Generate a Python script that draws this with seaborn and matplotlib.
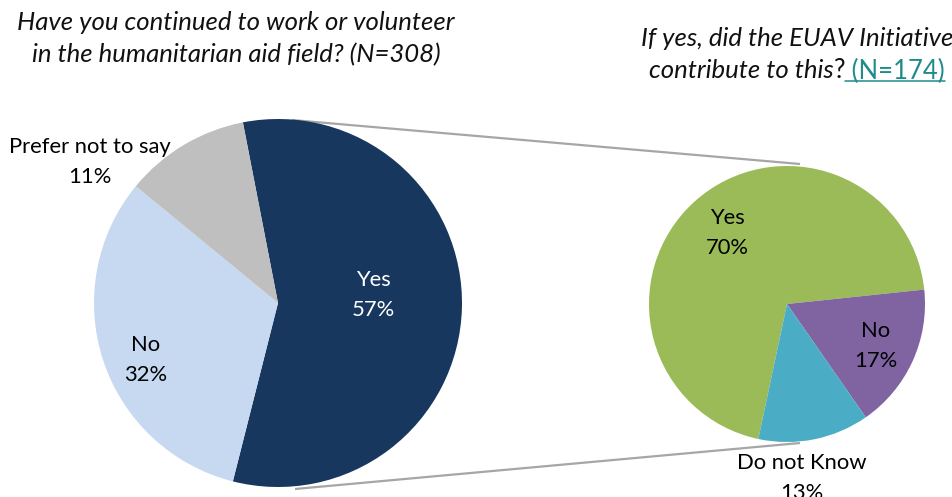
import matplotlib
matplotlib.use("Agg")
import matplotlib.pyplot as plt
import seaborn as sns

# Survey results
main_labels = ["Yes", "No", "Prefer not to say"]
main_values = [57, 32, 11]
main_colors = ["#17375E", "#C6D9F1", "#BFBFBF"]

sub_labels = ["Yes", "No", "Do not Know"]
sub_values = [70, 17, 13]
sub_colors = ["#9BBB59", "#8064A2", "#4BACC6"]

main_title = ["Have you continued to work or volunteer",
              "in the humanitarian aid field? (N=308)"]
sub_title_1 = "If yes, did the EUAV Initiative"
sub_title_2 = "contribute to this"
sub_n = " (N=174)"

sns.set_theme(style="white")
plt.rcParams["font.family"] = ["Lato", "DejaVu Sans"]

W, H = 952, 497
fig = plt.figure(figsize=(W / 100, H / 100), dpi=100)
ax = fig.add_axes([0, 0, 1, 1])

# Main pie (left) and breakdown pie (right), in pixel-like data units
main_center, main_r = (278, 194), 184
sub_center, sub_r = (787, 193), 138

ax.pie(main_values, colors=sns.color_palette(main_colors), startangle=101,
       counterclock=False, center=main_center, radius=main_r,
       wedgeprops=dict(linewidth=0))
ax.pie(sub_values, colors=sns.color_palette(sub_colors), startangle=258,
       counterclock=False, center=sub_center, radius=sub_r,
       wedgeprops=dict(linewidth=0))

ax.set_xlim(0, W)
ax.set_ylim(0, H)
ax.set_aspect("equal")
ax.axis("off")

# Connector lines between the two pies
line_kw = dict(color="#A6A6A6", linewidth=1.6, solid_capstyle="butt", zorder=0)
ax.plot([292, 800], [377, 333], **line_kw)
ax.plot([295, 800], [8, 54], **line_kw)

lab_kw = dict(ha="center", va="center", fontsize=15.8, linespacing=1.62)
ax.text(90, 335, f"{main_labels[2]}\n{main_values[2]}%", color="black", **lab_kw)
ax.text(373, 202, f"{main_labels[0]}\n{main_values[0]}%", color="white", **lab_kw)
ax.text(146, 137, f"{main_labels[1]}\n{main_values[1]}%", color="black", **lab_kw)

ax.text(727, 264, f"{sub_labels[0]}\n{sub_values[0]}%", color="black", **lab_kw)
ax.text(876, 151, f"{sub_labels[1]}\n{sub_values[1]}%", color="black", **lab_kw)
ax.text(802, 19, f"{sub_labels[2]}\n{sub_values[2]}%", color="black", **lab_kw)

# Titles
TS = 18.5
title_kw = dict(ha="center", va="center", fontsize=TS, style="italic", color="#111111")
ax.text(236, 474, main_title[0], **title_kw)
ax.text(236, 442, main_title[1], **title_kw)
ax.text(797, 458, sub_title_1, **title_kw)

# Second line of the right title: italic text, plain "?", teal underlined count
fig.canvas.draw()
renderer = fig.canvas.get_renderer()
parts = [
    (sub_title_2, dict(style="italic", color="#111111")),
    ("?", dict(style="normal", color="#111111")),
    (sub_n, dict(style="normal", color="#1F8C8C")),
]
texts = []
for s, kw in parts:
    t = ax.text(0, 426, s, ha="left", va="center", fontsize=TS, **kw)
    texts.append(t)
widths = [t.get_window_extent(renderer).width for t in texts]
x = 797 - sum(widths) / 2
for t, w in zip(texts, widths):
    t.set_x(x)
    x += w
bb = texts[2].get_window_extent(renderer)
ax.plot([bb.x0, bb.x1], [bb.y0 + 3, bb.y0 + 3], color="#1F8C8C", linewidth=1.1)

fig.savefig("out.png", dpi=100)
